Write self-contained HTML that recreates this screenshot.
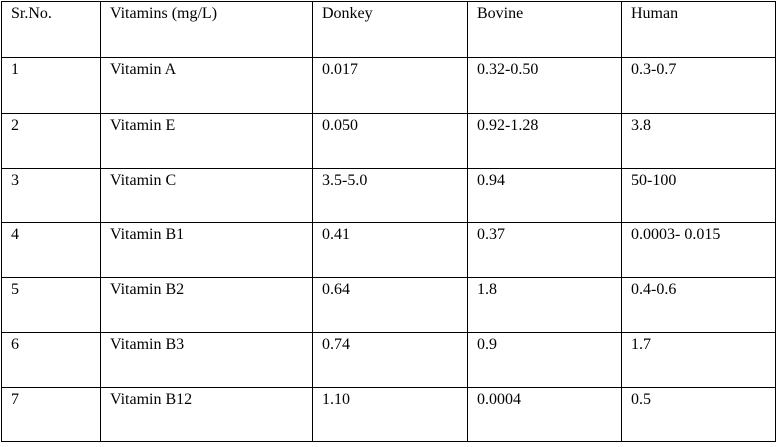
<!DOCTYPE html>
<html><head><meta charset="utf-8"><style>
body{margin:0;background:#fff;width:781px;height:447px;overflow:hidden;position:relative;font-family:"Liberation Serif",serif;font-size:16px;color:#000}
.v{position:absolute;width:1px;background:#000;top:1px;height:441px}
.h{position:absolute;height:1px;background:#000;left:1px;width:775px}
.c{position:absolute;white-space:nowrap;line-height:18px}
</style></head><body>
<div id="g"></div>
<script>
const cols=[1,100,312,467,621,775];
const rows=[1,57,113,168,222,277,332,387,441];
const data=[
["Sr.No.","Vitamins (mg/L)","Donkey","Bovine","Human"],
["1","Vitamin A","0.017","0.32-0.50","0.3-0.7"],
["2","Vitamin E","0.050","0.92-1.28","3.8"],
["3","Vitamin C","3.5-5.0","0.94","50-100"],
["4","Vitamin B1","0.41","0.37","0.0003- 0.015"],
["5","Vitamin B2","0.64","1.8","0.4-0.6"],
["6","Vitamin B3","0.74","0.9","1.7"],
["7","Vitamin B12","1.10","0.0004","0.5"]];
const g=document.getElementById('g');
cols.forEach(x=>{const d=document.createElement('div');d.className='v';d.style.left=x+'px';


g.appendChild(d);});
rows.forEach(y=>{const d=document.createElement('div');d.className='h';d.style.top=y+'px';


g.appendChild(d);});
data.forEach((r,i)=>r.forEach((t,j)=>{const d=document.createElement('div');d.className='c';
d.style.left=(cols[j]+10)+'px';d.style.top=(rows[i]+4)+'px';d.textContent=t;


g.appendChild(d);}));
</script>
</body></html>
